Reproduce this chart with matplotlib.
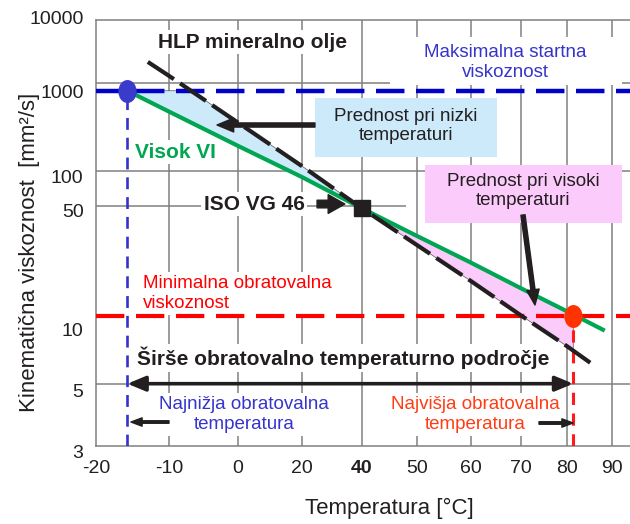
import numpy as np
import matplotlib

matplotlib.use("Agg")
import matplotlib.pyplot as plt
from matplotlib.markers import MarkerStyle
from matplotlib.patches import Rectangle
from matplotlib.path import Path
from matplotlib.transforms import Affine2D, ScaledTranslation

# --- data ---
X_TICKS = [-20, -10, 0, 20, 40, 50, 60, 70, 80, 90]
Y_TICKS = [3, 5, 10, 50, 100, 1000, 10000]

hlp_t = [-12.9, -10, 0, 20, 40, 50, 60, 70, 80, 86.2]
hlp_v = [2000, 1250, 315, 111, 48, 26, 15.5, 10.1, 7.2, 5.9]

vi_t = [-15.7, -10, 0, 20, 40, 50, 60, 70, 80, 88.4]
vi_v = [780, 425, 176, 88, 48, 30, 20, 14.1, 10.6, 8.5]

max_start_visc = 780      # blue dashed line
min_oper_visc = 10        # red dashed line
t_low = -15.7             # lowest operating temperature
t_high = 81.4             # highest operating temperature
iso_t, iso_v = 40, 48     # ISO VG 46 point

# advantage regions (polygon vertices)
low_adv_t = [-15.7, -6.8, 0, 20, 40, 20, 0, -10]
low_adv_v = [780, 780, 315, 111, 48, 88, 176, 425]
high_adv_t = [40, 50, 60, 70, 80, 81.4, 81.4, 80, 70, 60, 50]
high_adv_v = [48, 30, 20, 14.1, 10.6, 10.2, 6.87, 7.2, 10.1, 15.5, 26]

# --- scales: schematic temperature axis, Walther-type viscosity axis ---
SCALE_T = [-20, -10, 0, 20, 40, 50, 60, 70, 80, 90, 100]
SCALE_U = [0, 73, 142, 206, 266, 321, 375, 425, 471, 516, 560]


def t_fwd(t):
    return np.interp(np.asarray(t, float), SCALE_T, SCALE_U)


def t_inv(u):
    return np.interp(np.asarray(u, float), SCALE_U, SCALE_T)


def walther(v):
    v = np.clip(np.asarray(v, float), 0.31, None)
    return np.log10(np.log10(v + 0.7))


def walther_inv(w):
    return 10 ** (10 ** np.asarray(w, float)) - 0.7


plt.rcParams["font.family"] = ["Liberation Sans", "DejaVu Sans"]
TXT = "#231f20"
GRID = "#808080"

fig = plt.figure(figsize=(6.3, 5.24), dpi=100)
ax = fig.add_axes([96 / 630, 78 / 524, 534 / 630, 426 / 524])
ax.set_xscale("function", functions=(t_fwd, t_inv))
ax.set_yscale("function", functions=(walther, walther_inv))
ax.set_xlim(-20, 94.1)
ax.set_ylim(3, 10000)

ax.set_xticks(X_TICKS, [str(t) for t in X_TICKS])
ax.set_yticks(Y_TICKS, [str(v) for v in Y_TICKS])
ax.xaxis.set_minor_locator(matplotlib.ticker.NullLocator())
ax.yaxis.set_minor_locator(matplotlib.ticker.NullLocator())
ax.tick_params(length=0, labelsize=14, labelcolor=TXT)
ax.tick_params(axis="x", pad=10)
ax.tick_params(axis="y", pad=9)
for lab in ax.get_xticklabels():
    if lab.get_text() == "40":
        lab.set_fontweight("bold")
for lab, d in zip(ax.get_yticklabels(), [6, 7, 13, 4, 6, 9, -3]):
    lab.set_transform(lab.get_transform()
                      + ScaledTranslation(0, -d / 100, fig.dpi_scale_trans))

for s in ("left", "bottom", "top"):
    ax.spines[s].set_color(GRID)
    ax.spines[s].set_linewidth(1.1)
ax.spines["right"].set_visible(False)

# grid
for t in X_TICKS[1:]:
    ax.axvline(t, color=GRID, lw=1.1, zorder=1)
for v in (5, 100, 1000):
    ax.axhline(v, color=GRID, lw=1.1, zorder=1)
ax.hlines(50, -20, 48, color=GRID, lw=1.1, zorder=1)

# advantage regions
ax.fill(low_adv_t, low_adv_v, fc="#cceaf9", ec="#555555", lw=0.5, zorder=2)
ax.fill(high_adv_t, high_adv_v, fc="#fbcbfb", ec="#555555", lw=0.5, zorder=2)

# limit lines
ax.axhline(max_start_visc, color="#0000cc", lw=3.2, dashes=(6.4, 2.6), zorder=4)
ax.axhline(min_oper_visc, color="#ff0000", lw=3.0, dashes=(6.8, 2.8), zorder=4)
ax.vlines(t_low, 3, max_start_visc, color="#3333cc", lw=1.9, linestyles=(0, (4.5, 3)), zorder=4)
ax.vlines(t_high, 3, min_oper_visc, color="#ff1a1a", lw=2.2, linestyles=(0, (4, 2.8)), zorder=4)

# oil curves
ax.plot(vi_t, vi_v, color="#00a651", lw=3, zorder=4.2, solid_capstyle="butt")
ax.plot(hlp_t, hlp_v, color="#231f20", lw=3, dashes=(7.5, 1.8), zorder=4.3)

# markers
oval = MarkerStyle(Path.unit_circle().transformed(Affine2D().scale(0.8, 1.0)))
ax.plot(t_low, max_start_visc, marker=oval, ms=16.5, color="#3a3acc", mec="none", zorder=5)
ax.plot(t_high, min_oper_visc, marker=oval, ms=16.5, color="#ff3300", mec="none", zorder=5)
ax.plot(iso_t, iso_v, marker="s", ms=11.5, color=TXT, zorder=5)

# text
tr = ax.transAxes
white = dict(facecolor="white", edgecolor="none", pad=2)
ax.text(0.294, 0.948, "HLP mineralno olje", transform=tr, ha="center", va="center",
        fontsize=15, fontweight="bold", color=TXT, bbox=white, zorder=3)
ax.add_patch(Rectangle((0.5506, 0.8474), 0.4345, 0.1127, transform=tr,
                       fc="white", ec="none", zorder=3))
ax.text(0.766, 0.900, "Maksimalna startna\nviskoznost", transform=tr, ha="center",
        va="center", fontsize=13.5, color="#3535cc", zorder=3.1)

ax.add_patch(Rectangle((0.4101, 0.6784), 0.3408, 0.1385, transform=tr,
                       fc="#cceaf9", ec="none", zorder=3))
ax.text(0.5805, 0.7512, "Prednost pri nizki\ntemperaturi", transform=tr, ha="center",
        va="center", fontsize=13.5, color=TXT, zorder=3.1)
ax.add_patch(Rectangle((0.6161, 0.5235), 0.3689, 0.1362, transform=tr,
                       fc="#fbcbfb", ec="none", zorder=3))
ax.text(0.7996, 0.5985, "Prednost pri visoki\ntemperaturi", transform=tr, ha="center",
        va="center", fontsize=13.5, color=TXT, zorder=3.1)

ax.text(0.073, 0.690, "Visok VI", transform=tr, ha="left", va="center",
        fontsize=15, fontweight="bold", color="#00a651", bbox=white, zorder=3)
ax.text(0.296, 0.568, "ISO VG 46", transform=tr, ha="center", va="center",
        fontsize=15, fontweight="bold", color=TXT, bbox=white, zorder=3)
ax.text(0.088, 0.358, "Minimalna obratovalna\nviskoznost", transform=tr, ha="left",
        va="center", fontsize=13.5, color="#ff0000", bbox=white, zorder=3)
ax.text(0.0768, 0.2066, "Širše obratovalno temperaturno področje", transform=tr,
        ha="left", va="center", fontsize=15, fontweight="bold", color=TXT,
        bbox=white, zorder=3)
ax.text(0.277, 0.074, "Najnižja obratovalna\ntemperatura", transform=tr, ha="center",
        va="center", fontsize=13.5, color="#3535cc", bbox=white, zorder=3)
ax.text(0.7097, 0.074, "Najvišja obratovalna\ntemperatura", transform=tr, ha="center",
        va="center", fontsize=13.5, color="#ff3c14", bbox=white, zorder=3)

# arrows
def arrow(tail, tip, style, coords="axes fraction", **kw):
    ax.annotate("", xy=tip, xytext=tail, xycoords=coords, textcoords=coords,
                arrowprops=dict(arrowstyle=style, color=TXT, shrinkA=0, shrinkB=0,
                                mutation_scale=10, **kw), zorder=6)


arrow((0.410, 0.7535), (0.2266, 0.7535), "simple,head_length=1.2,head_width=1.0,tail_width=0.3")
arrow((0.7996, 0.5423), (0.8221, 0.331), "simple,head_length=1.1,head_width=0.9,tail_width=0.3")
arrow((0.414, 0.568), (0.466, 0.568), "simple,head_length=1.2,head_width=1.35,tail_width=0.55")
arrow((0.1367, 0.0563), (0.0655, 0.0563), "simple,head_length=0.8,head_width=0.6,tail_width=0.18")
arrow((0.8296, 0.054), (0.8933, 0.054), "simple,head_length=0.8,head_width=0.6,tail_width=0.18")
ax.annotate("", xy=(t_high, 5), xytext=(t_low, 5), xycoords="data",
            arrowprops=dict(arrowstyle="<|-|>,head_length=0.6,head_width=0.25",
                            color=TXT, lw=2.6, shrinkA=0, shrinkB=0,
                            mutation_scale=18), zorder=6)

ax.set_xlabel("Temperatura [°C]", fontsize=16, color=TXT)
ax.xaxis.set_label_coords(0.549, -0.122)
ax.set_ylabel("Kinematična viskoznost  [mm²/s]", fontsize=16, color=TXT)
ax.yaxis.set_label_coords(-0.105, 0.455)

fig.savefig("out.png", dpi=100)
